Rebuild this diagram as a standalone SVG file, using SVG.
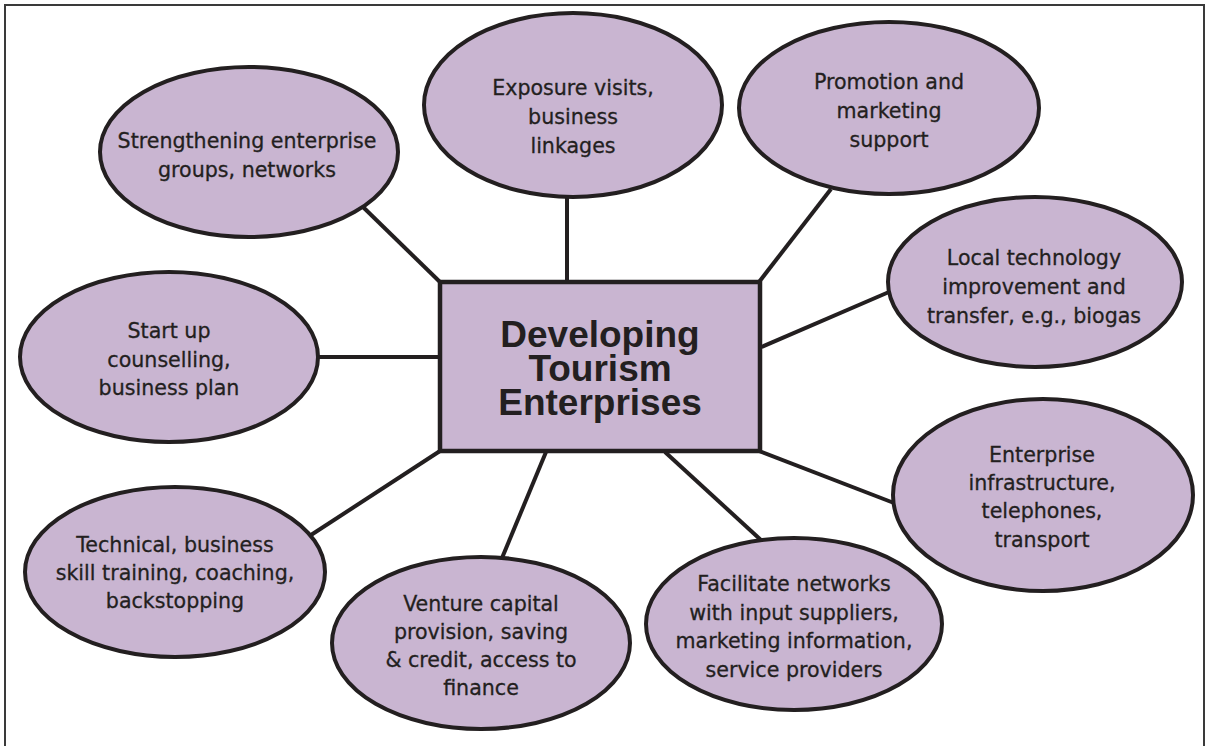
<svg xmlns="http://www.w3.org/2000/svg" width="1207" height="746" viewBox="0 0 1207 746">
<style>
.bg{fill:#ffffff}
.frame{fill:none;stroke:#3a3a3a;stroke-width:2}
.node ellipse{fill:#c9b5d1;stroke:#231f20;stroke-width:4}
.center rect{fill:#c9b5d1;stroke:#231f20;stroke-width:4.5}
.conn line{stroke:#231f20;stroke-width:4;stroke-linecap:butt}
.t{font-family:"DejaVu Sans","Liberation Sans",sans-serif;font-size:20.6px;fill:#231f20;stroke:#231f20;stroke-width:0.3;text-anchor:middle}
.title{font-family:"Liberation Sans",Arial,sans-serif;font-weight:bold;font-size:37px;fill:#231f20;text-anchor:middle}
</style>
<rect class="bg" x="0" y="0" width="1207" height="746"/>
<rect class="frame" x="5" y="5" width="1199" height="760"/>
<g id="connectors" class="conn">
<line x1="363" y1="207" x2="440" y2="282"/>
<line x1="567" y1="196" x2="567" y2="282"/>
<line x1="831" y1="189" x2="759" y2="282"/>
<line x1="759" y1="348" x2="889" y2="292"/>
<line x1="318" y1="357" x2="440" y2="357"/>
<line x1="759" y1="451" x2="894" y2="503"/>
<line x1="665" y1="452" x2="762" y2="541"/>
<line x1="546" y1="452" x2="502" y2="558"/>
<line x1="440" y1="451" x2="311" y2="535"/>
</g>
<g id="center" class="center">
<rect x="440" y="282" width="320" height="169"/>
<text class="title" x="600" y="347">Developing</text>
<text class="title" x="600" y="381">Tourism</text>
<text class="title" x="600" y="415">Enterprises</text>
</g>
<g id="n-strengthening" class="node">
<ellipse cx="249" cy="152" rx="149" ry="85"/>
<text class="t" x="247" y="148">Strengthening enterprise</text>
<text class="t" x="247" y="177">groups, networks</text>
</g>
<g id="n-exposure" class="node">
<ellipse cx="573" cy="105" rx="149" ry="92"/>
<text class="t" x="573" y="95">Exposure visits,</text>
<text class="t" x="573" y="124">business</text>
<text class="t" x="573" y="153">linkages</text>
</g>
<g id="n-promotion" class="node">
<ellipse cx="889" cy="108" rx="150" ry="86"/>
<text class="t" x="889" y="89">Promotion and</text>
<text class="t" x="889" y="118">marketing</text>
<text class="t" x="889" y="147">support</text>
</g>
<g id="n-localtech" class="node">
<ellipse cx="1035" cy="282" rx="147" ry="85"/>
<text class="t" x="1034" y="265">Local technology</text>
<text class="t" x="1034" y="294">improvement and</text>
<text class="t" x="1034" y="323">transfer, e.g., biogas</text>
</g>
<g id="n-startup" class="node">
<ellipse cx="169" cy="357" rx="149" ry="85"/>
<text class="t" x="169" y="338">Start up</text>
<text class="t" x="169" y="367">counselling,</text>
<text class="t" x="169" y="395">business plan</text>
</g>
<g id="n-infrastructure" class="node">
<ellipse cx="1043" cy="495" rx="150" ry="96"/>
<text class="t" x="1042" y="462">Enterprise</text>
<text class="t" x="1042" y="490">infrastructure,</text>
<text class="t" x="1042" y="518">telephones,</text>
<text class="t" x="1042" y="547">transport</text>
</g>
<g id="n-technical" class="node">
<ellipse cx="175" cy="572" rx="150" ry="85"/>
<text class="t" x="175" y="552">Technical, business</text>
<text class="t" x="175" y="580">skill training, coaching,</text>
<text class="t" x="175" y="608">backstopping</text>
</g>
<g id="n-venture" class="node">
<ellipse cx="481" cy="643" rx="149" ry="86"/>
<text class="t" x="481" y="611">Venture capital</text>
<text class="t" x="481" y="639">provision, saving</text>
<text class="t" x="481" y="667">&amp; credit, access to</text>
<text class="t" x="481" y="695">finance</text>
</g>
<g id="n-facilitate" class="node">
<ellipse cx="794" cy="624" rx="148" ry="86"/>
<text class="t" x="794" y="591">Facilitate networks</text>
<text class="t" x="794" y="620">with input suppliers,</text>
<text class="t" x="794" y="648">marketing information,</text>
<text class="t" x="794" y="677">service providers</text>
</g>
</svg>
